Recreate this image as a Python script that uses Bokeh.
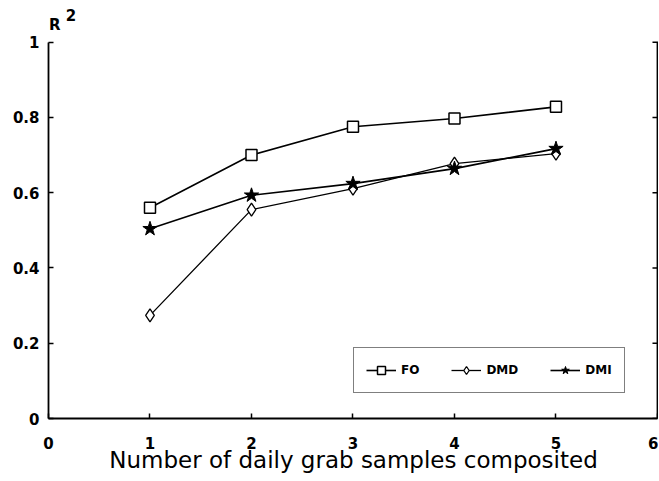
from bokeh.plotting import figure
from bokeh.models import Range1d, Legend, LegendItem, Label, FixedTicker
from bokeh.embed import file_html
from bokeh.resources import INLINE

samples = [1, 2, 3, 4, 5]
fo = [0.56, 0.70, 0.775, 0.797, 0.828]
dmd = [0.274, 0.555, 0.611, 0.677, 0.704]
dmi = [0.504, 0.593, 0.624, 0.664, 0.717]
x_ticks = [0, 1, 2, 3, 4, 5, 6]
y_ticks = [0, 0.2, 0.4, 0.6, 0.8, 1]
y_tick_labels = {0: "0", 0.2: "0.2", 0.4: "0.4", 0.6: "0.6", 0.8: "0.8", 1: "1"}
x_max = 6
y_max = 1

FONT = "DejaVu Sans"

p = figure(width=658, height=478, output_backend="svg", toolbar_location=None,
           x_range=Range1d(0, x_max + 0.01), y_range=Range1d(0, y_max + 0.1),
           min_border_left=48, min_border_right=0, min_border_top=4, min_border_bottom=60)
p.outline_line_color = None
p.grid.visible = False

for ax in (p.xaxis[0], p.yaxis[0]):
    ax.axis_line_width = 1.8
    ax.axis_line_color = "black"
    ax.major_tick_in = 5
    ax.major_tick_out = 0
    ax.minor_tick_line_color = None
    ax.major_tick_line_width = 1.5
    ax.major_label_text_font = FONT
    ax.major_label_text_font_style = "bold"
    ax.major_label_text_font_size = "15px"
    ax.major_label_text_color = "black"

p.xaxis.bounds = (0, x_max)
p.yaxis.bounds = (0, y_max)
p.xaxis.ticker = FixedTicker(ticks=x_ticks)
p.yaxis.ticker = FixedTicker(ticks=y_ticks)
p.yaxis.major_label_overrides = y_tick_labels
p.xaxis.major_label_standoff = 18
p.yaxis.major_label_standoff = 9
p.xaxis.axis_label = "Number of daily grab samples composited"
p.xaxis.axis_label_text_font = FONT
p.xaxis.axis_label_text_font_style = "normal"
p.xaxis.axis_label_text_font_size = "23px"
p.xaxis.axis_label_text_color = "black"
p.xaxis.axis_label_standoff = -5

# right-hand frame line with inward ticks
p.line([x_max, x_max], [0, y_max], line_color="black", line_width=1.8)
p.scatter([x_max] * len(y_ticks), y_ticks, marker="dash", size=10, line_color="black", line_width=1.5)

r_fo = p.line(samples, fo, line_color="black", line_width=1.6)
m_fo = p.scatter(samples, fo, marker="square", size=11, fill_color="white", line_color="black", line_width=1.5)
r_dmd = p.line(samples, dmd, line_color="black", line_width=1.3)
m_dmd = p.scatter(samples, dmd, marker="diamond", size=13, fill_color="white", line_color="black", line_width=1.3)
r_dmi = p.line(samples, dmi, line_color="black", line_width=1.6)
m_dmi = p.scatter(samples, dmi, marker="star", size=15, fill_color="black", line_color="black")

legend = Legend(items=[
    LegendItem(label="FO", renderers=[r_fo, m_fo]),
    LegendItem(label="DMD", renderers=[r_dmd, m_dmd]),
    LegendItem(label="DMI", renderers=[r_dmi, m_dmi]),
], location=(305, 25), orientation="horizontal")
legend.border_line_color = "black"
legend.border_line_width = 1.5
legend.label_text_font = FONT
legend.label_text_font_style = "bold"
legend.label_text_font_size = "12px"
legend.label_text_color = "black"
legend.glyph_width = 30
legend.label_width = 10
legend.spacing = 32
legend.padding = 12
legend.margin = 0
p.add_layout(legend, "center")

p.add_layout(Label(x=0.005, y=1.045, text="R", text_color="black",
                   text_font=FONT, text_font_style="bold", text_font_size="15px",
                   text_align="left", text_baseline="middle"))
p.add_layout(Label(x=0.17, y=1.072, text="2", text_color="black",
                   text_font=FONT, text_font_style="bold", text_font_size="15px",
                   text_align="left", text_baseline="middle"))

open("out.html", "w").write(file_html(p, INLINE))
